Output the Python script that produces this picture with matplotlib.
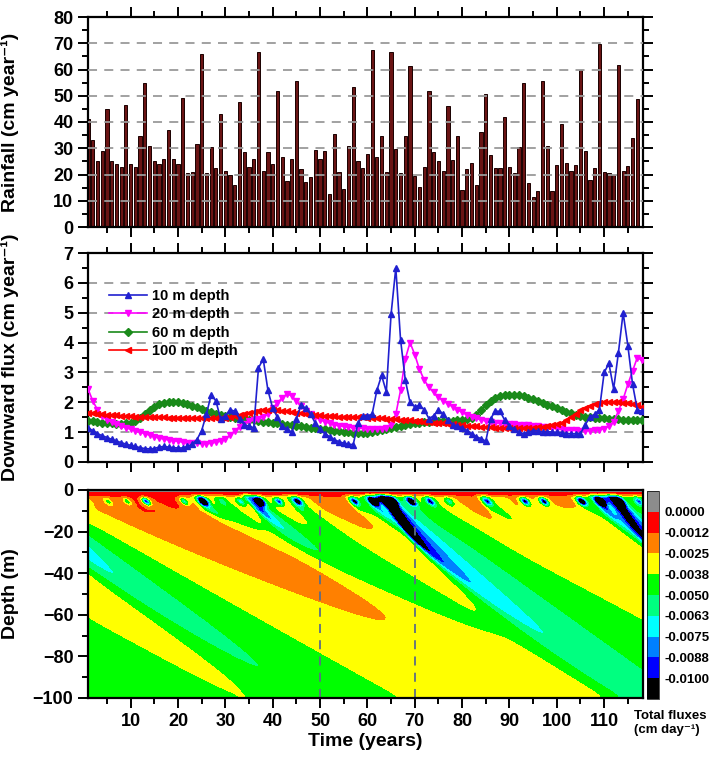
import numpy as np
import matplotlib
matplotlib.use("Agg")
import matplotlib.pyplot as plt
from matplotlib.ticker import MultipleLocator

plt.rcParams['font.family'] = ['Liberation Sans', 'DejaVu Sans']
plt.rcParams['font.weight'] = 'bold'
plt.rcParams['axes.labelweight'] = 'bold'

# ---- data
rain_years = np.arange(1, 118)
rainfall = [41, 33, 25, 29, 45, 25, 24, 23, 46.5, 24,
            23, 34.5, 55, 31, 25, 24, 26, 37, 26, 24,
            49, 20.5, 21, 31.5, 66, 20.5, 30.5, 22.5, 43, 21.5,
            20, 16, 47.5, 28.5, 23, 26, 66.5, 21.5, 28.5, 24,
            52, 26.5, 17.5, 26, 55.5, 22, 17, 19, 29.5, 26,
            29, 12.5, 35.5, 21, 14.5, 31, 53.5, 25.3, 22.3, 28,
            67.3, 26.6, 34.8, 21.1, 66.8, 29.7, 20.6, 34.8, 61.3, 19.6,
            15.4, 23, 52, 28.5, 25.3, 21.4, 46, 25.6, 34.5, 14.1,
            22, 24.5, 15.9, 36.2, 50.7, 27.5, 22.5, 22.5, 41.8, 22.8,
            20.5, 30.4, 55, 16.7, 11.3, 13.9, 55.5, 31, 13.9, 23.8,
            39.4, 24.3, 21.3, 23.8, 60, 28.8, 18, 22.3, 69.8, 20.9,
            20.5, 19.9, 61.7, 21.5, 23.3, 33.9, 48.8]

years = np.arange(1, 119)
flux_10m = [1.15, 1.05, 0.95, 0.88, 0.82, 0.76, 0.70, 0.65, 0.60, 0.56,
            0.52, 0.48, 0.45, 0.44, 0.45, 0.50, 0.52, 0.50, 0.48, 0.47,
            0.47, 0.52, 0.60, 0.75, 1.05, 1.60, 2.25, 2.05, 1.45, 1.55,
            1.75, 1.70, 1.45, 1.25, 1.20, 1.15, 3.15, 3.45, 2.40, 1.80,
            1.50, 1.20, 1.10, 1.00, 1.45, 1.90, 1.80, 1.60, 1.30, 1.10,
            0.95, 0.85, 0.75, 0.68, 0.63, 0.60, 0.58, 1.30, 1.55, 1.55,
            1.60, 2.40, 2.90, 2.35, 4.95, 6.50, 4.10, 2.75, 2.00, 1.85,
            1.90, 1.75, 1.45, 1.55, 1.75, 1.60, 1.40, 1.25, 1.20, 1.15,
            1.05, 0.95, 0.85, 0.78, 0.70, 1.45, 1.70, 1.70, 1.40, 1.20,
            1.10, 1.00, 0.95, 1.00, 1.05, 1.05, 1.00, 1.02, 1.00, 1.00,
            0.98, 0.95, 0.95, 0.95, 0.95, 1.25, 1.50, 1.60, 1.75, 3.00,
            3.30, 2.45, 3.65, 5.00, 3.90, 2.60, 1.75, 1.70]
flux_20m = [2.45, 2.05, 1.75, 1.55, 1.42, 1.33, 1.26, 1.20, 1.15, 1.10,
            1.05, 1.00, 0.95, 0.90, 0.85, 0.80, 0.77, 0.74, 0.72, 0.69,
            0.67, 0.65, 0.63, 0.62, 0.61, 0.61, 0.63, 0.66, 0.70, 0.78,
            0.90, 1.05, 1.18, 1.28, 1.36, 1.40, 1.45, 1.50, 1.62, 1.80,
            1.98, 2.15, 2.28, 2.22, 2.05, 1.88, 1.72, 1.60, 1.50, 1.42,
            1.35, 1.30, 1.25, 1.22, 1.19, 1.17, 1.15, 1.14, 1.13, 1.12,
            1.12, 1.12, 1.12, 1.15, 1.25, 1.60, 2.40, 3.45, 4.00, 3.60,
            3.10, 2.75, 2.50, 2.33, 2.18, 2.05, 1.95, 1.85, 1.75, 1.66,
            1.58, 1.52, 1.46, 1.41, 1.38, 1.35, 1.32, 1.30, 1.28, 1.27,
            1.26, 1.25, 1.24, 1.23, 1.22, 1.20, 1.18, 1.16, 1.14, 1.12,
            1.10, 1.08, 1.07, 1.06, 1.05, 1.05, 1.05, 1.06, 1.08, 1.12,
            1.20, 1.35, 1.70, 2.10, 2.60, 3.05, 3.50, 3.40]
flux_60m = [1.38, 1.36, 1.34, 1.32, 1.30, 1.29, 1.28, 1.28, 1.29, 1.32,
            1.38, 1.48, 1.60, 1.73, 1.85, 1.93, 1.98, 2.01, 2.02, 2.01,
            1.98, 1.94, 1.89, 1.83, 1.77, 1.71, 1.66, 1.61, 1.57, 1.53,
            1.50, 1.47, 1.45, 1.43, 1.41, 1.39, 1.37, 1.35, 1.33, 1.31,
            1.29, 1.27, 1.25, 1.23, 1.21, 1.19, 1.17, 1.15, 1.13, 1.11,
            1.09, 1.07, 1.05, 1.03, 1.01, 0.99, 0.97, 0.96, 0.96, 0.98,
            1.01, 1.04, 1.07, 1.10, 1.14, 1.18, 1.21, 1.25, 1.28, 1.30,
            1.32, 1.34, 1.35, 1.36, 1.37, 1.37, 1.38, 1.38, 1.39, 1.40,
            1.43, 1.48, 1.58, 1.75, 1.92, 2.05, 2.14, 2.20, 2.23, 2.24,
            2.24, 2.23, 2.20, 2.16, 2.11, 2.05, 1.99, 1.92, 1.86, 1.80,
            1.74, 1.68, 1.63, 1.58, 1.55, 1.52, 1.50, 1.48, 1.47, 1.46,
            1.45, 1.44, 1.43, 1.42, 1.42, 1.41, 1.41, 1.41]
flux_100m = [1.65, 1.63, 1.61, 1.60, 1.58, 1.57, 1.56, 1.55, 1.54, 1.53,
             1.52, 1.52, 1.51, 1.51, 1.50, 1.50, 1.50, 1.49, 1.49, 1.49,
             1.48, 1.48, 1.47, 1.47, 1.47, 1.46, 1.46, 1.46, 1.47, 1.48,
             1.50, 1.53, 1.57, 1.61, 1.65, 1.69, 1.72, 1.74, 1.75, 1.75,
             1.74, 1.72, 1.70, 1.67, 1.65, 1.63, 1.61, 1.59, 1.57, 1.56,
             1.55, 1.54, 1.53, 1.52, 1.52, 1.51, 1.51, 1.50, 1.50, 1.49,
             1.48, 1.47, 1.46, 1.45, 1.44, 1.43, 1.42, 1.41, 1.40, 1.38,
             1.37, 1.35, 1.34, 1.32, 1.31, 1.29, 1.28, 1.26, 1.25, 1.23,
             1.22, 1.20, 1.19, 1.18, 1.17, 1.16, 1.15, 1.14, 1.14, 1.13,
             1.13, 1.13, 1.13, 1.14, 1.15, 1.16, 1.18, 1.20, 1.23, 1.27,
             1.32, 1.40, 1.50, 1.62, 1.73, 1.82, 1.89, 1.94, 1.98, 2.00,
             2.01, 2.01, 2.00, 1.99, 1.97, 1.94, 1.90, 1.85]

# depth profile of downward flux (cm/yr) at the start
init_depth = [10, 13, 16, 19, 22, 26, 31, 35, 38, 40, 42, 45, 52, 58, 62, 70, 80, 90, 100]
init_flux = [1.15, 1.25, 1.4, 1.6, 1.9, 2.3, 2.45, 2.2, 1.7, 1.4, 1.3, 1.25, 1.22, 1.28, 1.4, 1.55, 1.62, 1.65, 1.65]

cbar_labels = ['-0.0100', '-0.0088', '-0.0075', '-0.0063', '-0.0050',
               '-0.0038', '-0.0025', '-0.0012', '0.0000']
cbar_colors = ['#000000', '#0000ff', '#0080ff', '#00ffff', '#00ff80',
               '#00ff00', '#ffff00', '#ff8000', '#ff0000', '#8c8c8c']
levels = [-1, -0.01, -0.00875, -0.0075, -0.00625, -0.005,
          -0.00375, -0.0025, -0.00125, 0.0, 1]

# ---- flux field below 10 m: kinematic-wave transport of the 10 m series
p, a = 0.9, 0.94
dz, dt = 0.5, 0.02
zg = np.arange(10, 100 + dz / 2, dz)


def to_theta(q):
    return np.maximum(q, 1e-3) ** (1 - p) / (a * (1 - p))


def to_q(th):
    return (np.maximum(th, 1e-6) * a * (1 - p)) ** (1 / (1 - p))


def diffusivity(q):
    return np.clip(1.4 * q ** -0.7, 0.3, 3.0)


th = to_theta(np.interp(zg, init_depth, init_flux))
nsteps = int(round((118.5 - 1) / dt))
save_every = 10
tsave, qsave = [1.0], [to_q(th)]
for n in range(1, nsteps + 1):
    q = to_q(th)
    Df = diffusivity(0.5 * (q[1:] + q[:-1]))
    dflux = Df * (th[1:] - th[:-1]) / dz
    new = th.copy()
    new[1:-1] = (th[1:-1] - dt / dz * (q[1:-1] - q[:-2])
                 + dt / dz * (dflux[1:] - dflux[:-1]))
    t = 1.0 + n * dt
    new[0] = to_theta(np.interp(t, years, flux_10m))
    new[-1] = new[-2]
    th = new
    if n % save_every == 0:
        tsave.append(t)
        qsave.append(to_q(th))
tsave = np.array(tsave)
Qdeep = np.array(qsave).T

# ---- near-surface layer (0-10 m)
zs = np.arange(0, 10, 0.25)
TT, ZZ = np.meshgrid(tsave, zs)
Qs = (np.interp(TT + (10 - ZZ) / 2.5, years, flux_10m) * (0.78 + 0.022 * ZZ)
      * np.clip((ZZ - 1.0) / 2.5, 0, 1))
for yr, r in zip(rain_years, rainfall):
    if r > 40:
        amp = 0.22 * (r - 40)
        Qs += amp * np.exp(-((TT - yr - 0.3 - 0.25 * (ZZ - 5.5)) / 0.9) ** 2
                           - ((ZZ - 5.5) / 2.0) ** 2)
Qs[ZZ < 0.6] = -0.2

Z = np.concatenate([zs, zg])
Q = np.vstack([Qs, Qdeep])
field = -Q / 365.0

# ---- figure
fig = plt.figure(figsize=(7.12, 7.63), dpi=100)
W, H = 712, 763


def box(l, t_, r, b):
    return [l / W, 1 - b / H, (r - l) / W, (b - t_) / H]


ax1 = fig.add_axes(box(88, 17, 643, 227))
ax2 = fig.add_axes(box(88, 253, 643, 462))
ax3 = fig.add_axes(box(88, 490, 643, 698))
cax = fig.add_axes(box(647, 491, 659, 699))

xlim = (1, 118.2)
grid_kw = dict(color='#9a9a9a', ls=(0, (5, 4)), lw=1.3)

# top: rainfall bars
ax1.bar(rain_years, rainfall, width=0.68, color='#6a1414', edgecolor='#1a0000', lw=0.7, zorder=2)
for g in range(10, 80, 10):
    ax1.axhline(g, zorder=3, **grid_kw)
ax1.set_ylim(0, 80)
ax1.yaxis.set_major_locator(MultipleLocator(10))
ax1.yaxis.set_minor_locator(MultipleLocator(5))
ax1.set_ylabel('Rainfall (cm year⁻¹)', fontsize=14)

# middle: downward flux lines
for g in range(1, 7):
    ax2.axhline(g, zorder=1, **grid_kw)
ax2.plot(years, flux_60m, '-D', color='#1a8a1a', ms=4, lw=1.2, label='60 m depth', zorder=3)
ax2.plot(years, flux_20m, '-v', color='#ff00ff', ms=5, lw=1.2, label='20 m depth', zorder=4)
ax2.plot(years, flux_100m, '-<', color='#ff0000', ms=5, lw=1.2, label='100 m depth', zorder=5)
ax2.plot(years, flux_10m, '-^', color='#2020d0', ms=5, lw=1.2, label='10 m depth', zorder=6)
h, l = ax2.get_legend_handles_labels()
order = [3, 1, 0, 2]
ax2.legend([h[i] for i in order], [l[i] for i in order], loc='upper left',
           bbox_to_anchor=(0.015, 0.89), frameon=False, fontsize=10.5,
           handlelength=2.6, labelspacing=0.3, handletextpad=0.3)
ax2.set_ylim(0, 7)
ax2.yaxis.set_major_locator(MultipleLocator(1))
ax2.yaxis.set_minor_locator(MultipleLocator(0.5))
ax2.set_ylabel('Downward flux (cm year⁻¹)', fontsize=14)

for ax in (ax1, ax2):
    ax.set_xlim(*xlim)
    ax.xaxis.set_major_locator(MultipleLocator(10))
    ax.xaxis.set_minor_locator(MultipleLocator(5))
    ax.tick_params(which='both', direction='out', top=True, right=True,
                   labelbottom=False, labelsize=13, width=1.4)
    ax.tick_params(which='major', length=7)
    ax.tick_params(which='minor', length=4)
    for s in ax.spines.values():
        s.set_linewidth(1.6)

# bottom: contour of total fluxes
cs = ax3.contourf(tsave, -Z, field, levels=levels, colors=cbar_colors)
ax3.axvline(50, color='#5d6d85', ls=(0, (5, 4)), lw=1.3)
ax3.axvline(70, color='#5d6d85', ls=(0, (5, 4)), lw=1.3)
ax3.set_xlim(*xlim)
ax3.set_ylim(-100, 0)
ax3.xaxis.set_major_locator(MultipleLocator(10))
ax3.xaxis.set_minor_locator(MultipleLocator(5))
ax3.yaxis.set_major_locator(MultipleLocator(20))
ax3.yaxis.set_minor_locator(MultipleLocator(10))
ax3.tick_params(which='both', direction='out', labelsize=13, width=1.4)
ax3.tick_params(which='major', length=7)
ax3.tick_params(which='minor', length=4)
for s in ax3.spines.values():
    s.set_linewidth(1.6)
ax3.set_ylabel('Depth (m)', fontsize=14)
ax3.set_xlabel('Time (years)', fontsize=14)
ax3.xaxis.set_label_coords(0.5, -0.17)

for ax in (ax1, ax2, ax3):
    ax.yaxis.set_label_coords(-0.125, 0.5)
    for lab in ax.get_xticklabels() + ax.get_yticklabels():
        lab.set_fontweight('bold')

cb = fig.colorbar(cs, cax=cax, ticks=levels[1:-1])
cb.ax.set_yticklabels(cbar_labels)
cb.ax.tick_params(length=0, labelsize=9.5, pad=4)
cb.outline.set_linewidth(0.5)
for lab in cb.ax.get_yticklabels():
    lab.set_fontweight('bold')
fig.text(634 / W, 1 - 723 / H, 'Total fluxes\n(cm day⁻¹)', ha='left', va='center',
         fontsize=9.5, fontweight='bold', linespacing=1.3)

fig.savefig('out.png', dpi=100)
